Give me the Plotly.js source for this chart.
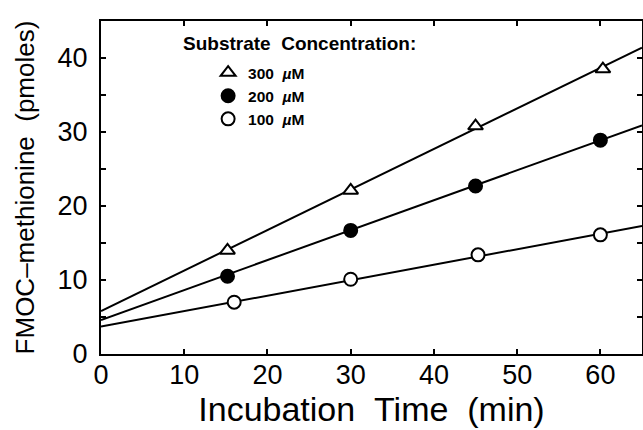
<!DOCTYPE html>
<html>
<head>
<meta charset="utf-8">
<script src="https://cdn.plot.ly/plotly-3.0.1.min.js"></script>
<style>html,body{margin:0;padding:0;background:#fff;}#chart{width:643px;height:430px;}</style>
</head>
<body>
<div id="chart"></div>
<script>
// Data
const seriesNames = ["300\u00a0\u00a0<i>µ</i>M", "200\u00a0\u00a0<i>µ</i>M", "100\u00a0\u00a0<i>µ</i>M"];
const x300 = [15.2, 30, 45, 60.3];
const y300 = [14.0, 22.1, 30.8, 38.5];
const x200 = [15.2, 30, 45, 60];
const y200 = [10.5, 16.7, 22.7, 28.9];
const x100 = [16.0, 30, 45.3, 60];
const y100 = [7.0, 10.1, 13.4, 16.1];
// fitted lines: value at x = 0 and at x = 65, as drawn
const lineX = [0, 65];
const line300 = [5.8, 41.4];
const line200 = [4.6, 30.9];
const line100 = [3.7, 17.3];
const xTicks = [0, 10, 20, 30, 40, 50, 60];
const yTicks = [0, 10, 20, 30, 40];

const FONT = "Liberation Sans, Arial, sans-serif";
const symbols = ["triangle-up", "circle", "circle"];
const fills = ["#fff", "#000", "#fff"];
const xs = [x300, x200, x100];
const ys = [y300, y200, y100];
const lines = [line300, line200, line100];

const traces = [];
for (let i = 0; i < 3; i++) {
  traces.push({
    x: lineX, y: lines[i], mode: "lines", showlegend: false, hoverinfo: "skip",
    line: {color: "#000", width: 2}
  });
}
for (let i = 0; i < 3; i++) {
  traces.push({
    x: xs[i], y: ys[i], mode: "markers", name: seriesNames[i],
    marker: {symbol: symbols[i], size: 13, color: fills[i],
             line: {color: "#000", width: 2}}
  });
}

const layout = {
  width: 643, height: 430,
  margin: {l: 101, r: 1, t: 21, b: 76},
  paper_bgcolor: "#fff", plot_bgcolor: "#fff",
  font: {family: FONT, color: "#000"},
  showlegend: true,
  legend: {
    x: 0.198, y: 0.895, xanchor: "left", yanchor: "top",
    bgcolor: "rgba(0,0,0,0)", borderwidth: 0,
    font: {family: FONT, size: 15.5, weight: "bold", color: "#000"},
    itemclick: false
  },
  xaxis: {
    range: [0, 65], tickvals: xTicks, ticktext: xTicks.map(String),
    ticks: "inside", ticklen: 5, tickwidth: 2, tickcolor: "#000",
    showline: true, linewidth: 2, linecolor: "#000", mirror: "ticks",
    showgrid: false, zeroline: false,
    tickfont: {family: FONT, size: 27},
    ticklabelstandoff: -4,
    title: {text: "Incubation\u00a0\u00a0Time\u00a0\u00a0(min)", font: {family: FONT, size: 34}, standoff: 8}
  },
  yaxis: {
    range: [0, 45], tickvals: yTicks, ticktext: yTicks.map(String),
    ticks: "inside", ticklen: 5, tickwidth: 2, tickcolor: "#000",
    minor: {dtick: 5, ticks: "inside", ticklen: 5, tickwidth: 2, tickcolor: "#000"},
    showline: true, linewidth: 2, linecolor: "#000", mirror: "ticks",
    showgrid: false, zeroline: false,
    tickfont: {family: FONT, size: 27},
    ticklabelstandoff: 6,
    title: {text: "FMOC\u2013methionine\u00a0\u00a0(pmoles)", font: {family: FONT, size: 26}, standoff: 15}
  },
  annotations: [{
    xref: "paper", yref: "paper", x: 0.366, y: 0.931, xanchor: "center", yanchor: "middle",
    text: "<b>Substrate\u00a0\u00a0Concentration:</b>", showarrow: false,
    font: {family: FONT, size: 19, color: "#000"}
  }]
};

Plotly.newPlot("chart", traces, layout, {displayModeBar: false, staticPlot: true});
</script>
</body>
</html>
